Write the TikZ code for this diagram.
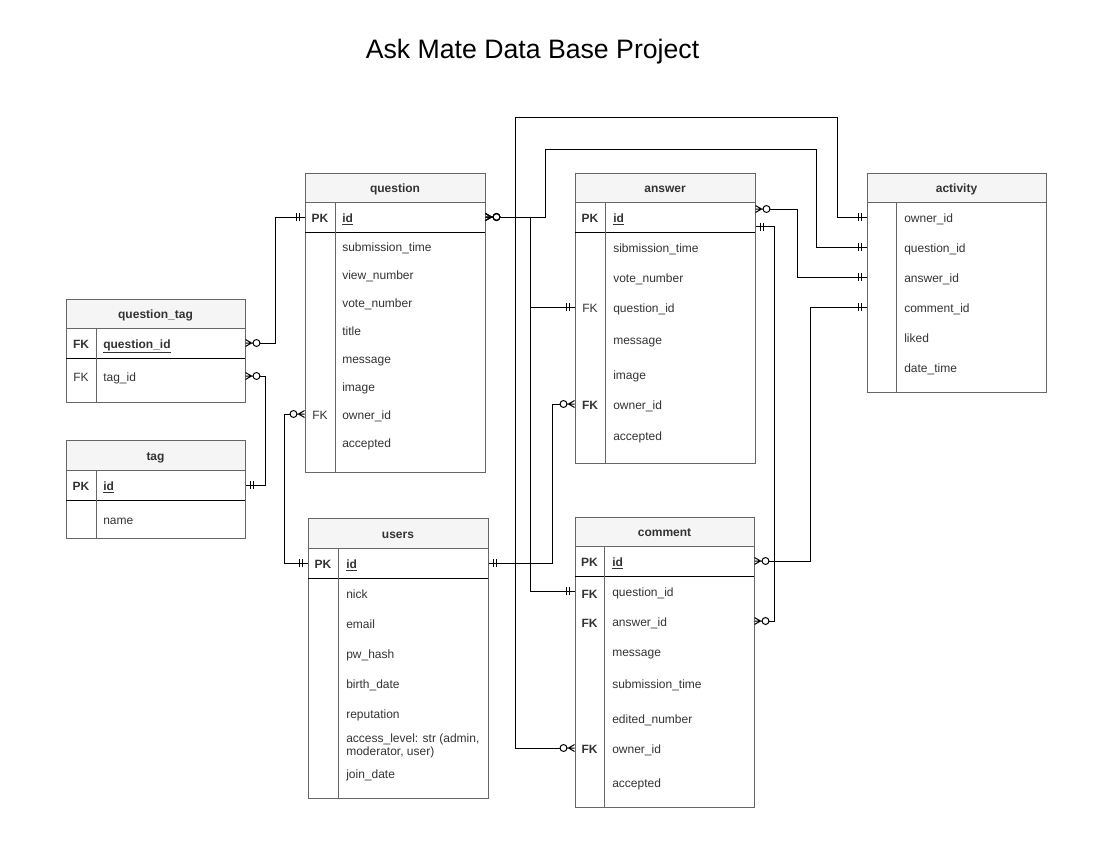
\documentclass[tikz,border=0pt]{standalone}
\usepackage{xcolor}
\usepackage{fontspec}
\setmainfont{Liberation Sans}
\usepackage{tikz}
\usetikzlibrary{fit}
\usetikzlibrary{calc}

\definecolor{tblgray}{HTML}{666666}
\definecolor{hdrfill}{HTML}{F5F5F5}
\definecolor{txtgray}{HTML}{333333}

% mandatory one
\pgfdeclarearrow{
  name = ERone,
  setup code = {
    \pgfarrowssettipend{0pt}
    \pgfarrowssetlineend{0pt}
    \pgfarrowssetbackend{-6.5pt}
    \pgfarrowshullpoint{0pt}{3pt}
    \pgfarrowshullpoint{-6.5pt}{-3pt}
  },
  drawing code = {
    \pgfpathmoveto{\pgfqpoint{-3.75pt}{-3pt}}
    \pgfpathlineto{\pgfqpoint{-3.75pt}{3pt}}
    \pgfpathmoveto{\pgfqpoint{-6pt}{-3pt}}
    \pgfpathlineto{\pgfqpoint{-6pt}{3pt}}
    \pgfusepathqstroke
  },
}
% zero or many
\pgfdeclarearrow{
  name = ERmany,
  setup code = {
    \pgfarrowssettipend{0pt}
    \pgfarrowssetlineend{-10.85pt}
    \pgfarrowssetbackend{-10.85pt}
    \pgfarrowshullpoint{0pt}{2.7pt}
    \pgfarrowshullpoint{-10.85pt}{-2.7pt}
  },
  drawing code = {
    \pgfpathmoveto{\pgfqpoint{0pt}{2.6pt}}
    \pgfpathlineto{\pgfqpoint{-4.5pt}{0pt}}
    \pgfpathlineto{\pgfqpoint{0pt}{-2.6pt}}
    \pgfpathmoveto{\pgfqpoint{-5.65pt}{0pt}}
    \pgfpathlineto{\pgfqpoint{0pt}{0pt}}
    \pgfusepathqstroke
    \pgfpathcircle{\pgfqpoint{-8.25pt}{0pt}}{2.6pt}
    \pgfusepathqstroke
  },
}

\tikzset{
  hdr/.style={draw=tblgray, fill=hdrfill, line width=0.75pt},
  tblbody/.style={draw=tblgray, line width=0.75pt, inner sep=0pt},
  keyline/.style={draw=black, line width=0.75pt},
  colline/.style={draw=tblgray, line width=0.75pt},
  tbltitle/.style={inner sep=0pt, text=txtgray, text height=9pt, text depth=1.2pt, font=\fontsize{9}{11}\selectfont\bfseries},
  field/.style={anchor=west, inner sep=0pt, text=txtgray, text height=9pt, text depth=1.2pt, font=\fontsize{9}{11}\selectfont},
  keyfield/.style={field, font=\fontsize{9}{11}\selectfont\bfseries},
  keylbl/.style={inner sep=0pt, text=txtgray, text height=9pt, text depth=1.2pt, font=\fontsize{9}{11}\selectfont},
  keylblb/.style={keylbl, font=\fontsize{9}{11}\selectfont\bfseries},
  rel/.style={draw=black, line width=0.75pt},
}

\begin{document}
\begin{tikzpicture}[x=0.75pt,y=0.75pt,yscale=-1,xscale=1]
\path (0,0) rectangle (1100,850);

% Text Node
\node[anchor=base, inner sep=0pt, font=\fontsize{20}{24}\selectfont] (title) at (532.5,58.5) {Ask Mate Data Base Project};

%Shape: Table [question]
\draw[hdr] (305,173) rectangle (485,202);
\node[tblbody, fit={(305,202) (485,472)}] (question) {};
\draw[keyline] (305,232) -- (485,232);
\draw[colline] (335,202) -- (335,472);
\node[tbltitle] (question-title) at (395,187.5) {question};
\node[keylblb] (q-pk) at (320,217) {PK};
\node[keyfield] (q-id) at (342,217) {\underline{id}};
\node[field] (q-subm) at (342,246) {submission\_time};
\node[field] (q-view) at (342,274) {view\_number};
\node[field] (q-vote) at (342,302) {vote\_number};
\node[field] (q-title) at (342,330) {title};
\node[field] (q-msg) at (342,358) {message};
\node[field] (q-img) at (342,386) {image};
\node[keylbl] (q-fk) at (320,414) {FK};
\node[field] (q-owner) at (342,414) {owner\_id};
\node[field] (q-acc) at (342,442) {accepted};

%Shape: Table [question_tag]
\draw[hdr] (66,299) rectangle (245,328);
\node[tblbody, fit={(66,328) (245,402)}] (qtag) {};
\draw[keyline] (66,358) -- (245,358);
\draw[colline] (96,328) -- (96,402);
\node[tbltitle] (qtag-title) at (155.5,313.5) {question\_tag};
\node[keylblb] (qt-fk1) at (81,343) {FK};
\node[keyfield] (qt-qid) at (103,343) {\underline{question\_id}};
\node[keylbl] (qt-fk2) at (81,376) {FK};
\node[field] (qt-tid) at (103,376) {tag\_id};

%Shape: Table [tag]
\draw[hdr] (66,440) rectangle (245,470);
\node[tblbody, fit={(66,470) (245,538)}] (tag) {};
\draw[keyline] (66,500) -- (245,500);
\draw[colline] (96,470) -- (96,538);
\node[tbltitle] (tag-title) at (155.5,455) {tag};
\node[keylblb] (t-pk) at (81,485) {PK};
\node[keyfield] (t-id) at (103,485) {\underline{id}};
\node[field] (t-name) at (103,519) {name};

%Shape: Table [users]
\draw[hdr] (308,518) rectangle (488,548);
\node[tblbody, fit={(308,548) (488,798)}] (users) {};
\draw[keyline] (308,578) -- (488,578);
\draw[colline] (338,548) -- (338,798);
\node[tbltitle] (users-title) at (398,533) {users};
\node[keylblb] (u-pk) at (323,563) {PK};
\node[keyfield] (u-id) at (346,563) {\underline{id}};
\node[field] (u-nick) at (346,593) {nick};
\node[field] (u-email) at (346,623) {email};
\node[field] (u-pw) at (346,653) {pw\_hash};
\node[field] (u-birth) at (346,683) {birth\_date};
\node[field] (u-rep) at (346,713) {reputation};
\node[anchor=west, inner sep=0pt, text=txtgray, align=left, font=\fontsize{9}{9.75}\selectfont] (u-acc) at (346,745.5) {access\_level: str (admin,\\moderator, user)};
\node[field] (u-join) at (346,773) {join\_date};

%Shape: Table [answer]
\draw[hdr] (575,173) rectangle (755,202);
\node[tblbody, fit={(575,202) (755,463)}] (answer) {};
\draw[keyline] (575,232) -- (755,232);
\draw[colline] (605,202) -- (605,463);
\node[tbltitle] (answer-title) at (665,187.5) {answer};
\node[keylblb] (a-pk) at (590,217) {PK};
\node[keyfield] (a-id) at (613,217) {\underline{id}};
\node[field] (a-subm) at (613,247) {sibmission\_time};
\node[field] (a-vote) at (613,277) {vote\_number};
\node[keylbl] (a-fk1) at (590,307) {FK};
\node[field] (a-qid) at (613,307) {question\_id};
\node[field] (a-msg) at (613,339) {message};
\node[field] (a-img) at (613,374) {image};
\node[keylblb] (a-fk2) at (590,404) {FK};
\node[field] (a-owner) at (613,404) {owner\_id};
\node[field] (a-acc) at (613,435) {accepted};

%Shape: Table [comment]
\draw[hdr] (575,517) rectangle (754,546);
\node[tblbody, fit={(575,546) (754,807)}] (comment) {};
\draw[keyline] (575,576) -- (754,576);
\draw[colline] (604,546) -- (604,807);
\node[tbltitle] (comment-title) at (664.5,531.5) {comment};
\node[keylblb] (c-pk) at (589.5,561) {PK};
\node[keyfield] (c-id) at (612,561) {\underline{id}};
\node[keylblb] (c-fk1) at (589.5,593) {FK};
\node[field] (c-qid) at (612,591) {question\_id};
\node[keylblb] (c-fk2) at (589.5,622) {FK};
\node[field] (c-aid) at (612,621) {answer\_id};
\node[field] (c-msg) at (612,651) {message};
\node[field] (c-subm) at (612,683) {submission\_time};
\node[field] (c-edit) at (612,718) {edited\_number};
\node[keylblb] (c-fk3) at (589.5,748) {FK};
\node[field] (c-owner) at (612,748) {owner\_id};
\node[field] (c-acc) at (612,782) {accepted};

%Shape: Table [activity]
\draw[hdr] (867,173) rectangle (1046,202);
\node[tblbody, fit={(867,202) (1046,392)}] (activity) {};
\draw[colline] (896,202) -- (896,392);
\node[tbltitle] (activity-title) at (956.5,187.5) {activity};
\node[field] (ac-owner) at (904,217) {owner\_id};
\node[field] (ac-qid) at (904,247) {question\_id};
\node[field] (ac-aid) at (904,277) {answer\_id};
\node[field] (ac-cid) at (904,307) {comment\_id};
\node[field] (ac-liked) at (904,337) {liked};
\node[field] (ac-date) at (904,367) {date\_time};

% Connectors
\draw[rel, ERmany-ERone] (qtag.east |- qt-qid) -- ++(30,0) |- (question.west |- q-id);
\draw[rel, ERmany-ERone] (qtag.east |- qt-tid) -- ++(20,0) |- (tag.east |- t-id);
\draw[rel, ERmany-ERone] (question.west |- q-owner) -- ++(-20,0) |- (users.west |- u-id);
\draw[rel, ERone-ERmany] (users.east |- u-id) -- ++(64,0) |- (answer.west |- a-owner);
\draw[rel, ERmany-ERone] (question.east |- q-id) -- ++(60,0) -- ++(0,-68) -- ++(271,0) |- (activity.west |- ac-qid);
\draw[rel, ERmany-ERone] (question.east |- q-id) -- ++(45,0) |- (answer.west |- a-qid);
\draw[rel, ERmany-ERone] (question.east |- q-id) -- ++(45,0) |- (comment.west |- c-qid);
\draw[rel, ERmany-ERone] (comment.west |- c-owner) -- ++(-59,0) -- ++(0,-631) -- ++(322,0) |- (activity.west |- ac-owner);
\draw[rel, ERmany-ERone] ($(answer.east |- a-id)+(0,-8)$) -- ++(42,0) |- (activity.west |- ac-aid);
\draw[rel, ERone-ERmany] ($(answer.east |- a-id)+(0,9.5)$) -- ++(19,0) |- (comment.east |- c-aid);
\draw[rel, ERmany-ERone] (comment.east |- c-id) -- ++(56,0) |- (activity.west |- ac-cid);

\end{tikzpicture}
\end{document}
